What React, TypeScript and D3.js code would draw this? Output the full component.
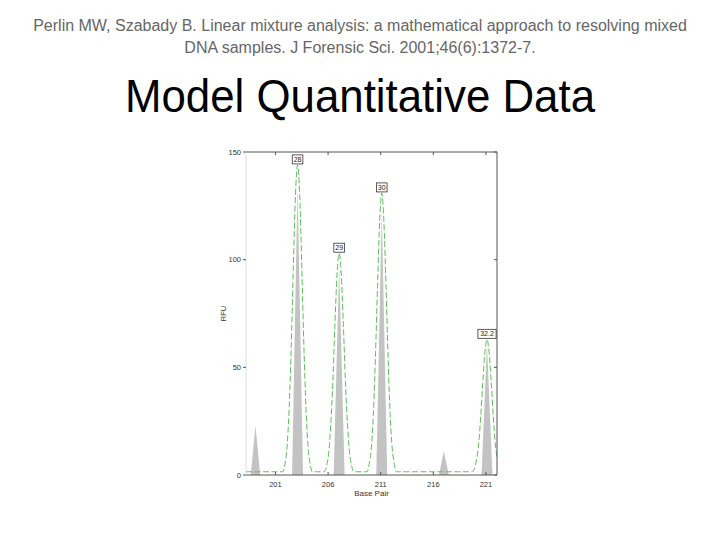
import React from "react";
import * as d3 from "d3";

// ---- data ----
const citationLines = [
  "Perlin MW, Szabady B. Linear mixture analysis: a mathematical approach to resolving mixed",
  "DNA samples. J Forensic Sci. 2001;46(6):1372-7.",
];
const titleText = "Model Quantitative Data";

const xTicks = [201, 206, 211, 216, 221];
const yTicks = [0, 50, 100, 150];
const xLabel = "Base Pair";
const yLabel = "RFU";

// observed (gray) peaks: centre (bp) and height (RFU)
const observedPos = [199.1, 203.1, 207.05, 211.1, 217.0, 221.1];
const observedHeight = [23, 135, 97, 123, 11, 61];
const observedHalfWidth = [0.45, 0.52, 0.52, 0.52, 0.47, 0.52];

// model (green dashed) curve
const modelX = [
  198.2, 201.7, 201.9, 202.1, 202.3, 202.5, 202.7, 202.9, 203.1, 203.3, 203.5, 203.7, 203.9, 204.1, 204.3, 204.5,
  205.65, 205.85, 206.05, 206.25, 206.45, 206.65, 206.85, 207.05, 207.25, 207.45, 207.65, 207.85, 208.05, 208.25, 208.45,
  209.7, 209.9, 210.1, 210.3, 210.5, 210.7, 210.9, 211.1, 211.3, 211.5, 211.7, 211.9, 212.1, 212.3, 212.5,
  219.7, 219.9, 220.1, 220.3, 220.5, 220.7, 220.9, 221.1, 221.3, 221.5, 221.7, 221.9, 222.05,
];
const modelY = [
  1.5, 1.5, 5, 13, 31, 60, 97, 130, 144, 130, 97, 60, 31, 13, 5, 1.5,
  1.5, 4, 10, 23, 43, 70, 93, 103, 93, 70, 43, 23, 10, 4, 1.5,
  1.5, 5, 12, 28, 55, 88, 118, 131, 118, 88, 55, 28, 12, 5, 1.5,
  1.5, 3, 7, 14, 27, 43, 57, 63, 57, 43, 27, 14, 8,
];

// allele labels
const alleleNames = ["28", "29", "30", "32.2"];
const allelePos = [203.1, 207.05, 211.1, 221.1];
const alleleHeight = [144, 103, 131, 63];

export default function App() {
  const left = 246, right = 497, top = 152, bottom = 475;
  const x = d3.scaleLinear().domain([198.2, 222.05]).range([left, right]);
  const y = d3.scaleLinear().domain([0, 150]).range([bottom, top]);

  const modelPts: [number, number][] = modelX.map((v, i) => [v, modelY[i]]);
  const modelLine = d3
    .line<[number, number]>()
    .x((d) => x(d[0]))
    .y((d) => y(d[1]))
    .curve(d3.curveMonotoneX)(modelPts);

  const tri = d3
    .area<[number, number]>()
    .x((d) => x(d[0]))
    .y0(y(0))
    .y1((d) => y(d[1]));

  const axisColor = "#555";
  const textColor = "#333";
  const font = "Liberation Sans, Arial, sans-serif";

  return (
    <svg
      width={720}
      height={540}
      style={{ position: "absolute", left: 0, top: 0, background: "#fff" }}
      fontFamily={font}
    >
      <rect x={0} y={0} width={720} height={540} fill="#fff" />
      {citationLines.map((t, i) => (
        <text key={i} x={360} y={31 + i * 22} textAnchor="middle" fontSize={16} fill="#666">
          {t}
        </text>
      ))}
      <text
        x={360}
        y={112}
        textAnchor="middle"
        fontSize={46}
        fill="#000"
        textLength={470}
        lengthAdjust="spacingAndGlyphs"
      >
        {titleText}
      </text>

      <defs>
        <clipPath id="plotclip">
          <rect x={left} y={top - 20} width={right - left} height={bottom - top + 20} />
        </clipPath>
      </defs>

      {/* observed peaks */}
      <g clipPath="url(#plotclip)">
        {observedPos.map((p, i) => (
          <path
            key={i}
            d={
              tri([
                [p - observedHalfWidth[i], 0],
                [p, observedHeight[i]],
                [p + observedHalfWidth[i], 0],
              ]) || ""
            }
            fill="#c3c3c3"
          />
        ))}
        <path d={modelLine || ""} fill="none" stroke="#5cbf5c" strokeWidth={1} strokeDasharray="6,2.5" />
      </g>

      {/* frame */}
      <line x1={left} x2={right} y1={top} y2={top} stroke={axisColor} />
      <line x1={left} x2={right} y1={bottom} y2={bottom} stroke={axisColor} />
      <line x1={right} x2={right} y1={top} y2={bottom} stroke={axisColor} />
      <line x1={left} x2={left} y1={top} y2={bottom} stroke="#ddd" />

      {xTicks.map((t) => (
        <g key={t}>
          <line x1={x(t)} x2={x(t)} y1={bottom} y2={bottom - 3} stroke={axisColor} />
          <line x1={x(t)} x2={x(t)} y1={top} y2={top + 3} stroke={axisColor} />
          <text x={x(t)} y={bottom + 12} textAnchor="middle" fontSize={7.5} fill={textColor}>
            {t}
          </text>
        </g>
      ))}
      {yTicks.map((t) => (
        <g key={t}>
          <line x1={left - 3} x2={left} y1={y(t)} y2={y(t)} stroke={axisColor} />
          <line x1={right} x2={right - 3} y1={y(t)} y2={y(t)} stroke={axisColor} />
          <text x={left - 5} y={y(t) + 2.5} textAnchor="end" fontSize={7.5} fill={textColor}>
            {t}
          </text>
        </g>
      ))}
      <text x={(left + right) / 2} y={496} textAnchor="middle" fontSize={8} fill={textColor}>
        {xLabel}
      </text>
      <text
        transform={`translate(226,${(top + bottom) / 2}) rotate(-90)`}
        textAnchor="middle"
        fontSize={7.5}
        fill={textColor}
      >
        {yLabel}
      </text>

      {/* allele labels */}
      {alleleNames.map((n, i) => {
        const w = n.length * 3.8 + 3;
        const cx = x(allelePos[i]);
        const by = y(alleleHeight[i]) - 1;
        return (
          <g key={n}>
            <rect x={cx - w / 2} y={by - 9} width={w} height={9} fill="#fff" stroke="#333" strokeWidth={0.8} />
            <text x={cx} y={by - 2} textAnchor="middle" fontSize={7} fill="#222">
              {n}
            </text>
          </g>
        );
      })}
    </svg>
  );
}
